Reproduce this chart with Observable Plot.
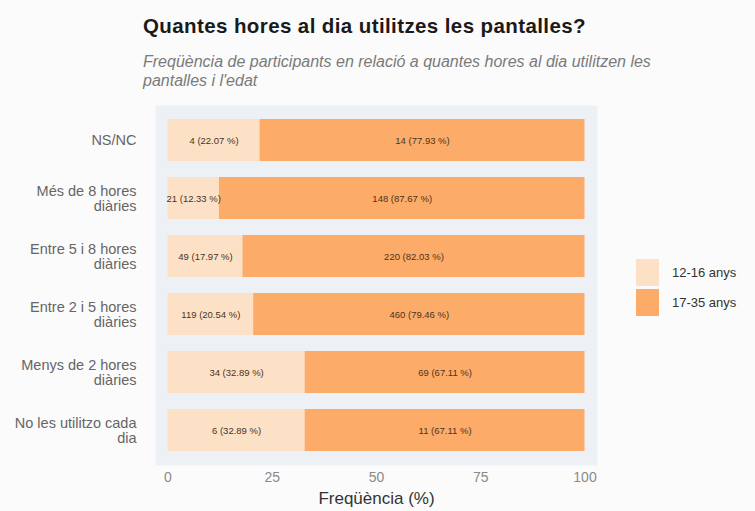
<!DOCTYPE html>
<html>
<head>
<meta charset="utf-8">
<script src="https://cdn.jsdelivr.net/npm/d3@7"></script>
<script src="https://cdn.jsdelivr.net/npm/@observablehq/plot@0.6"></script>
<style>
  html, body { margin: 0; padding: 0; background: #fbfbfb; }
  #wrap { position: relative; width: 755px; height: 511px; background: #fbfbfb; font-family: "Liberation Sans", Arial, sans-serif; overflow: hidden; }
  #title { position: absolute; left: 143px; top: 14px; font-size: 20.5px; letter-spacing: 0.4px; font-weight: bold; color: #1a1a1a; white-space: nowrap; line-height: 24px; }
  #subtitle { position: absolute; left: 143px; top: 53px; font-size: 16px; font-style: italic; color: #7a7a7a; line-height: 18.5px; white-space: nowrap; }
  #chart { position: absolute; left: 0; top: 95px; }
  #legend { position: absolute; left: 636px; top: 257px; font-size: 13px; color: #333; }
  .item { display: flex; align-items: center; height: 30px; }
  .sw { width: 23px; height: 27px; margin-right: 13px; }
</style>
</head>
<body>
<div id="wrap">
  <div id="title">Quantes hores al dia utilitzes les pantalles?</div>
  <div id="subtitle">Freqüència de participants en relació a quantes hores al dia utilitzen les<br>pantalles i l'edat</div>
  <div id="chart"></div>
  <div id="legend"></div>
</div>
<script>
const categories = [
  "NS/NC",
  "Més de 8 hores diàries",
  "Entre 5 i 8 hores diàries",
  "Entre 2 i 5 hores diàries",
  "Menys de 2 hores diàries",
  "No les utilitzo cada dia"
];
const groups = ["12-16 anys", "17-35 anys"];
const youngCounts = [4, 21, 49, 119, 34, 6];
const youngPct = [22.07, 12.33, 17.97, 20.54, 32.89, 32.89];
const olderCounts = [14, 148, 220, 460, 69, 11];
const olderPct = [77.93, 87.67, 82.03, 79.46, 67.11, 67.11];
const xTicks = [0, 25, 50, 75, 100];
const colors = ["#fde1c7", "#fdab68"];

const rows = [];
categories.forEach((c, i) => {
  rows.push({cat: c, group: groups[0], pct: youngPct[i], n: youngCounts[i]});
  rows.push({cat: c, group: groups[1], pct: olderPct[i], n: olderCounts[i]});
});

function wrap(s) {
  const words = s.split(" ");
  const lines = [];
  let cur = "";
  for (const w of words) {
    if (cur && (cur + " " + w).length > 20) { lines.push(cur); cur = w; }
    else cur = cur ? cur + " " + w : w;
  }
  lines.push(cur);
  return lines.join("\n");
}

const chart = Plot.plot({
  width: 755,
  height: 416,
  marginLeft: 155,
  marginRight: 158,
  marginTop: 10,
  marginBottom: 46,
  style: {background: "transparent", fontFamily: "'Liberation Sans', Arial, sans-serif"},
  x: {domain: [-3, 103], label: null},
  y: {domain: categories, paddingInner: 0.28, paddingOuter: 0.24, label: null},
  color: {domain: groups, range: colors},
  marks: [
    Plot.frame({fill: "#edf1f5", stroke: null}),
    Plot.barX(rows, Plot.stackX({x: "pct", y: "cat", fill: "group", z: "group"})),
    Plot.text(rows, Plot.stackX({
      x: "pct", y: "cat", z: "group",
      text: d => `${d.n} (${d.pct.toFixed(2)} %)`,
      fontSize: 9.5, fill: "#4a3420"
    })),
    Plot.axisX({ticks: xTicks, tickSize: 0, tickPadding: 7, fontSize: 14, color: "#8a8a8a", label: null}),
    Plot.axisY({tickSize: 0, tickPadding: 19, fontSize: 14.5, color: "#666", lineHeight: 1.03, tickFormat: wrap, label: null}),
    Plot.text(["Freqüència (%)"], {frameAnchor: "bottom", lineAnchor: "middle", dy: 33, fontSize: 17, fill: "#333"})
  ]
});
document.getElementById("chart").appendChild(chart);

const legend = document.getElementById("legend");
groups.forEach((g, i) => {
  const it = document.createElement("div");
  it.className = "item";
  const sw = document.createElement("div");
  sw.className = "sw";
  sw.style.background = colors[i];
  const t = document.createElement("span");
  t.textContent = g;
  it.appendChild(sw); it.appendChild(t);
  legend.appendChild(it);
});
</script>
</body>
</html>
